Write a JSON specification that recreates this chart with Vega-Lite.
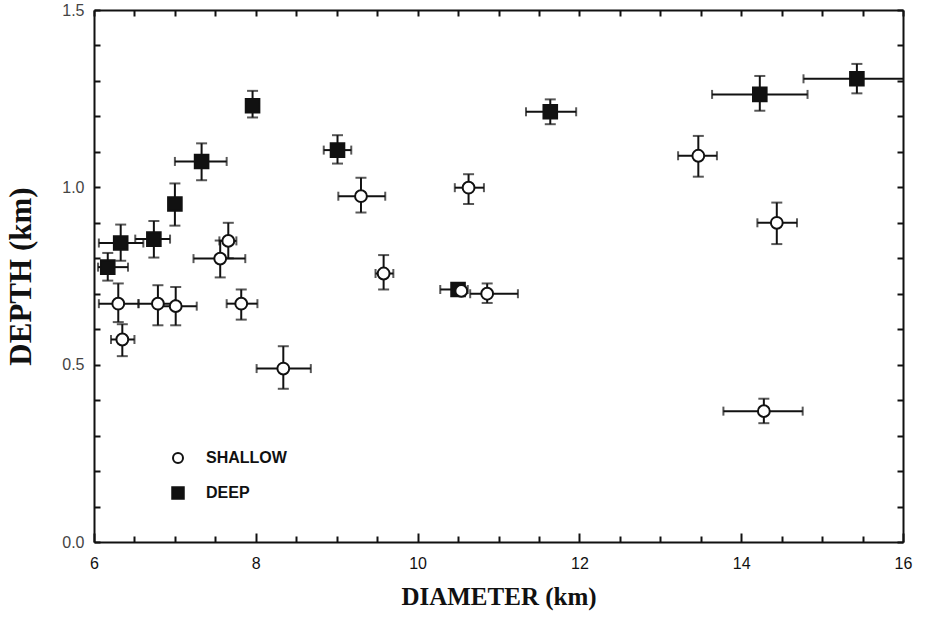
{
  "$schema": "https://vega.github.io/schema/vega-lite/v6.json",
  "autosize": {"type": "none"},
  "padding": {"left": 94, "top": 10, "right": 26, "bottom": 78},
  "width": 809,
  "height": 532,
  "background": "white",
  "data": {
    "values": [
      {"group": "DEEP", "d": 6.17, "dlo": 6.05, "dhi": 6.42, "z": 0.775, "zlo": 0.737, "zhi": 0.815},
      {"group": "DEEP", "d": 6.33, "dlo": 6.06, "dhi": 6.61, "z": 0.843, "zlo": 0.793, "zhi": 0.895},
      {"group": "DEEP", "d": 6.74, "dlo": 6.51, "dhi": 6.94, "z": 0.854, "zlo": 0.802, "zhi": 0.905},
      {"group": "DEEP", "d": 7.0, "dlo": 7.0, "dhi": 7.0, "z": 0.953, "zlo": 0.892, "zhi": 1.011},
      {"group": "DEEP", "d": 7.33, "dlo": 7.0, "dhi": 7.64, "z": 1.073, "zlo": 1.02, "zhi": 1.124},
      {"group": "DEEP", "d": 7.96, "dlo": 7.96, "dhi": 7.96, "z": 1.23, "zlo": 1.197, "zhi": 1.272},
      {"group": "DEEP", "d": 9.01, "dlo": 8.84, "dhi": 9.18, "z": 1.105, "zlo": 1.067, "zhi": 1.147},
      {"group": "DEEP", "d": 10.5, "dlo": 10.28, "dhi": 10.62, "z": 0.712, "zlo": 0.7, "zhi": 0.724},
      {"group": "DEEP", "d": 11.64, "dlo": 11.34, "dhi": 11.96, "z": 1.213, "zlo": 1.178, "zhi": 1.248},
      {"group": "DEEP", "d": 14.23, "dlo": 13.64, "dhi": 14.82, "z": 1.262, "zlo": 1.216, "zhi": 1.314},
      {"group": "DEEP", "d": 15.43, "dlo": 14.77, "dhi": 16.1, "z": 1.306, "zlo": 1.265, "zhi": 1.348},
      {"group": "SHALLOW", "d": 7.66, "dlo": 7.55, "dhi": 7.76, "z": 0.849, "zlo": 0.8, "zhi": 0.9},
      {"group": "SHALLOW", "d": 7.56, "dlo": 7.23, "dhi": 7.87, "z": 0.799, "zlo": 0.746, "zhi": 0.85},
      {"group": "SHALLOW", "d": 9.3, "dlo": 9.02, "dhi": 9.6, "z": 0.975, "zlo": 0.929, "zhi": 1.027},
      {"group": "SHALLOW", "d": 9.58, "dlo": 9.48, "dhi": 9.7, "z": 0.757, "zlo": 0.712, "zhi": 0.809},
      {"group": "SHALLOW", "d": 6.3, "dlo": 6.06, "dhi": 6.55, "z": 0.672, "zlo": 0.62, "zhi": 0.729},
      {"group": "SHALLOW", "d": 6.79, "dlo": 6.55, "dhi": 7.0, "z": 0.672, "zlo": 0.611, "zhi": 0.724},
      {"group": "SHALLOW", "d": 7.01, "dlo": 6.8, "dhi": 7.27, "z": 0.665, "zlo": 0.611, "zhi": 0.719},
      {"group": "SHALLOW", "d": 6.35, "dlo": 6.21, "dhi": 6.5, "z": 0.571, "zlo": 0.524, "zhi": 0.614},
      {"group": "SHALLOW", "d": 7.82, "dlo": 7.64, "dhi": 8.02, "z": 0.672, "zlo": 0.627, "zhi": 0.712},
      {"group": "SHALLOW", "d": 8.34, "dlo": 8.01, "dhi": 8.68, "z": 0.489, "zlo": 0.432, "zhi": 0.552},
      {"group": "SHALLOW", "d": 10.63, "dlo": 10.46, "dhi": 10.82, "z": 0.999, "zlo": 0.953, "zhi": 1.037},
      {"group": "SHALLOW", "d": 13.47, "dlo": 13.22, "dhi": 13.7, "z": 1.089, "zlo": 1.03, "zhi": 1.145},
      {"group": "SHALLOW", "d": 14.44, "dlo": 14.2, "dhi": 14.69, "z": 0.9, "zlo": 0.84, "zhi": 0.957},
      {"group": "SHALLOW", "d": 10.54, "dlo": 10.54, "dhi": 10.54, "z": 0.708, "zlo": 0.708, "zhi": 0.708},
      {"group": "SHALLOW", "d": 10.86, "dlo": 10.65, "dhi": 11.24, "z": 0.7, "zlo": 0.674, "zhi": 0.729},
      {"group": "SHALLOW", "d": 14.28, "dlo": 13.78, "dhi": 14.76, "z": 0.369, "zlo": 0.335, "zhi": 0.404}
    ]
  },
  "layer": [
    {
      "mark": {"type": "errorbar", "ticks": {"size": 9, "thickness": 2, "color": "#111"}, "rule": {"strokeWidth": 2, "color": "#111"}, "clip": true},
      "encoding": {
        "x": {
          "field": "dlo", "type": "quantitative",
          "scale": {"domain": [6, 16], "nice": false, "zero": false},
          "axis": {
            "orient": "bottom",
            "title": "DIAMETER (km)",
            "titleFontSize": 25,
            "values": [6, 6.5, 7, 7.5, 8, 8.5, 9, 9.5, 10, 10.5, 11, 11.5, 12, 12.5, 13, 13.5, 14, 14.5, 15, 15.5, 16],
            "labelExpr": "datum.value % 2 === 0 ? format(datum.value, 'd') : ''",
            "tickSize": {"condition": {"test": "datum.value % 2 === 0", "value": -9}, "value": -6},
            "labelColor": "#111",
            "labelPadding": 22,
            "labelOverlap": false,
            "labelFlush": false,
            "titlePadding": 10
          }
        },
        "x2": {"field": "dhi"},
        "y": {
          "field": "z", "type": "quantitative",
          "scale": {"domain": [0, 1.5], "nice": false},
          "axis": {
            "orient": "left",
            "title": "DEPTH (km)",
            "titleFontSize": 31,
            "values": [0, 0.1, 0.2, 0.3, 0.4, 0.5, 0.6, 0.7, 0.8, 0.9, 1.0, 1.1, 1.2, 1.3, 1.4, 1.5],
            "labelExpr": "abs(datum.value * 2 - round(datum.value * 2)) < 0.001 ? format(datum.value, '.1f') : ''",
            "tickSize": -6,
            "labelColor": "#444",
            "labelPadding": 16,
            "labelOverlap": false,
            "labelFlush": false,
            "titlePadding": 24
          }
        }
      }
    },
    {
      "mark": {"type": "errorbar", "ticks": {"size": 11, "thickness": 2, "color": "#111"}, "rule": {"strokeWidth": 2, "color": "#111"}, "clip": true},
      "encoding": {
        "x": {
          "field": "d", "type": "quantitative",
          "scale": {"domain": [6, 16], "nice": false, "zero": false},
          "axis": {
            "orient": "top",
            "title": null,
            "values": [6, 6.5, 7, 7.5, 8, 8.5, 9, 9.5, 10, 10.5, 11, 11.5, 12, 12.5, 13, 13.5, 14, 14.5, 15, 15.5, 16],
            "labels": false,
            "tickSize": -6
          }
        },
        "y": {
          "field": "zlo", "type": "quantitative",
          "scale": {"domain": [0, 1.5], "nice": false},
          "axis": {
            "orient": "right",
            "title": null,
            "values": [0, 0.1, 0.2, 0.3, 0.4, 0.5, 0.6, 0.7, 0.8, 0.9, 1.0, 1.1, 1.2, 1.3, 1.4, 1.5],
            "labels": false,
            "tickSize": -6
          }
        },
        "y2": {"field": "zhi"}
      }
    },
    {
      "mark": {"type": "point", "filled": true, "strokeWidth": 2, "opacity": 1, "size": 140, "clip": true},
      "encoding": {
        "x": {"field": "d", "type": "quantitative", "axis": null},
        "y": {"field": "z", "type": "quantitative", "axis": null},
        "shape": {
          "field": "group", "type": "nominal",
          "scale": {"domain": ["SHALLOW", "DEEP"], "range": ["circle", "M-1.15,-1.15H1.15V1.15H-1.15Z"]},
          "legend": {
            "orient": "none",
            "legendX": 76,
            "legendY": 440,
            "padding": 0,
            "title": null,
            "labelFont": "Liberation Sans",
            "labelFontSize": 16,
            "labelFontWeight": "bold",
            "labelColor": "#111",
            "labelOffset": 20,
            "rowPadding": 16,
            "symbolSize": 100,
            "symbolStrokeWidth": 2
          }
        },
        "fill": {
          "field": "group", "type": "nominal",
          "scale": {"domain": ["SHALLOW", "DEEP"], "range": ["white", "#111"]},
          "legend": {
            "orient": "none",
            "legendX": 76,
            "legendY": 440,
            "padding": 0,
            "title": null,
            "labelFont": "Liberation Sans",
            "labelFontSize": 16,
            "labelFontWeight": "bold",
            "labelColor": "#111",
            "labelOffset": 20,
            "rowPadding": 16,
            "symbolSize": 100,
            "symbolStrokeWidth": 2
          }
        },
        "stroke": {
          "field": "group", "type": "nominal",
          "scale": {"domain": ["SHALLOW", "DEEP"], "range": ["#111", "#111"]},
          "legend": {
            "orient": "none",
            "legendX": 76,
            "legendY": 440,
            "padding": 0,
            "title": null,
            "labelFont": "Liberation Sans",
            "labelFontSize": 16,
            "labelFontWeight": "bold",
            "labelColor": "#111",
            "labelOffset": 20,
            "rowPadding": 16,
            "symbolSize": 100,
            "symbolStrokeWidth": 2
          }
        }
      }
    }
  ],
  "resolve": {"axis": {"x": "independent", "y": "independent"}},
  "config": {
    "view": {"stroke": null},
    "axis": {
      "domainColor": "#111",
      "domainWidth": 2,
      "tickColor": "#111",
      "tickWidth": 2,
      "grid": false,
      "labelFont": "Liberation Sans",
      "labelFontSize": 16,
      "titleFont": "Liberation Serif",
      "titleFontWeight": "bold",
      "titleColor": "#111"
    }
  }
}
